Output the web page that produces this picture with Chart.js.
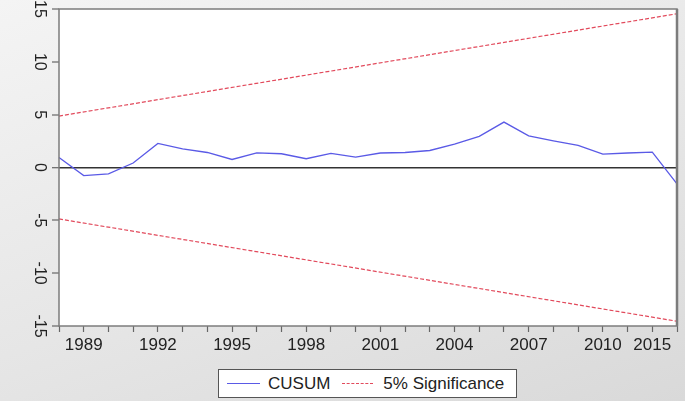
<!DOCTYPE html>
<html>
<head>
<meta charset="utf-8">
<script src="https://cdn.jsdelivr.net/npm/chart.js@4"></script>
<style>
html, body { margin: 0; padding: 0; }
body {
    width: 685px; height: 401px; overflow: hidden; position: relative;
    background: linear-gradient(160deg, #f4f4f4 0%, #e6e6e6 55%, #d9d9d9 100%);
    font-family: "Liberation Sans", Arial, sans-serif;
}
#wrap { position: absolute; left: 0; top: 0; width: 685px; height: 401px; }
#legend {
    position: absolute; left: 218px; top: 369px; width: 299px; height: 29px;
    box-sizing: border-box; border: 1px solid #555; background: #fff;
    display: flex; align-items: center; font-size: 17px; color: #222;
}
#legend .swatch { display: inline-block; width: 33px; height: 0; margin: 0 8px 0 8px; }
</style>
</head>
<body>
<div id="wrap"><canvas id="cusumChart" width="685" height="401"></canvas></div>
<div id="legend">
    <span class="swatch" style="border-top:1px solid #5a5ae6"></span><span>CUSUM</span>
    <span class="swatch" style="border-top:1px dashed #e24a5c; width:31px; margin-left:12px; margin-right:10px"></span><span>5% Significance</span>
</div>
<script>
var years = ['1988','1989','1990','1991','1992','1993','1994','1995','1996','1997','1998','1999','2000',
             '2001','2002','2003','2004','2005','2006','2007','2008','2009','2010','2011','2012','2013'];

var xTickLabels = ['', '1989', '', '', '1992', '', '', '1995', '', '', '1998', '', '', '2001', '', '',
                   '2004', '', '', '2007', '', '', '2010', '', '2015', ''];

var cusum = [0.95, -0.76, -0.6, 0.42, 2.28, 1.77, 1.42, 0.76, 1.39, 1.3, 0.83, 1.33, 0.99,
             1.37, 1.42, 1.61, 2.22, 2.94, 4.3, 3.0, 2.53, 2.09, 1.27, 1.37, 1.46, -1.55];

// 5% lines only known at the two ends, straight between
var bandYears = ['1988', '2013'];
var upperBand = [4.87, 14.55];
var lowerBand = [-4.87, -14.55];

var yTicks = [-15, -10, -5, 0, 5, 10, 15];

var boxPlugin = {
    id: 'box',
    beforeDraw: function(chart) {
        var a = chart.chartArea, c = chart.ctx;
        c.save();
        c.fillStyle = '#fff';
        c.fillRect(a.left, a.top, a.right - a.left, a.bottom - a.top);
        c.restore();
    },
    afterDraw: function(chart) {
        var a = chart.chartArea, c = chart.ctx, y = chart.scales.y;
        c.save();
        c.strokeStyle = '#7c7c7c';
        c.lineWidth = 1.5;
        c.strokeRect(a.left, a.top, a.right - a.left, a.bottom - a.top);
        c.lineWidth = 2.5;
        c.beginPath(); c.moveTo(a.right, a.top); c.lineTo(a.right, a.bottom); c.stroke();
        // rotated y labels
        c.fillStyle = '#222';
        c.font = '16px "Liberation Sans", Arial, sans-serif';
        c.textAlign = 'center';
        c.textBaseline = 'middle';
        yTicks.forEach(function(v) {
            c.save();
            c.translate(39, y.getPixelForValue(v));
            c.rotate(Math.PI / 2);
            c.fillText(String(v), 0, 0);
            c.restore();
        });
        c.restore();
    }
};

var ctx = document.getElementById('cusumChart');
var cusumChart = new Chart(ctx, {
    type: 'line',
    data: {
        labels: years,
        datasets: [{
            label: 'CUSUM',
            data: cusum,
            borderColor: '#5a5ae6',
            borderWidth: 1.3,
            pointRadius: 0,
            tension: 0
        }, {
            label: '5% Significance',
            data: bandYears.map(function(x, i) { return {x: x, y: upperBand[i]}; }),
            borderColor: '#e24a5c',
            borderWidth: 1.2,
            borderDash: [4, 2],
            pointRadius: 0
        }, {
            label: '5% lower',
            data: bandYears.map(function(x, i) { return {x: x, y: lowerBand[i]}; }),
            borderColor: '#e24a5c',
            borderWidth: 1.2,
            borderDash: [4, 2],
            pointRadius: 0
        }]
    },
    options: {
        responsive: false,
        animation: false,
        layout: { padding: { top: 9, right: 8, left: 0, bottom: 0 } },
        plugins: { legend: { display: false }, tooltip: { enabled: false } },
        scales: {
            x: {
                type: 'category',
                offset: false,
                border: { display: false },
                grid: { drawOnChartArea: false, drawTicks: true, tickLength: 6, tickColor: '#666', tickWidth: 1.2 },
                ticks: {
                    autoSkip: false, maxRotation: 0, minRotation: 0, padding: 3,
                    color: '#222', font: { size: 17, family: '"Liberation Sans", Arial, sans-serif' },
                    callback: function(v, i) { return xTickLabels[i]; }
                },
                afterFit: function(s) { s.height = 75; }
            },
            y: {
                min: -15, max: 15,
                border: { display: false },
                grid: {
                    drawOnChartArea: true, tickLength: 7, tickWidth: 1.2, tickColor: '#666',
                    color: function(c) { return c.tick && c.tick.value === 0 ? '#333' : 'rgba(0,0,0,0)'; },
                    lineWidth: function(c) { return c.tick && c.tick.value === 0 ? 1.4 : 0; }
                },
                ticks: { stepSize: 5, display: false },
                afterFit: function(s) { s.width = 59; }
            }
        }
    },
    plugins: [boxPlugin]
});
</script>
</body>
</html>
